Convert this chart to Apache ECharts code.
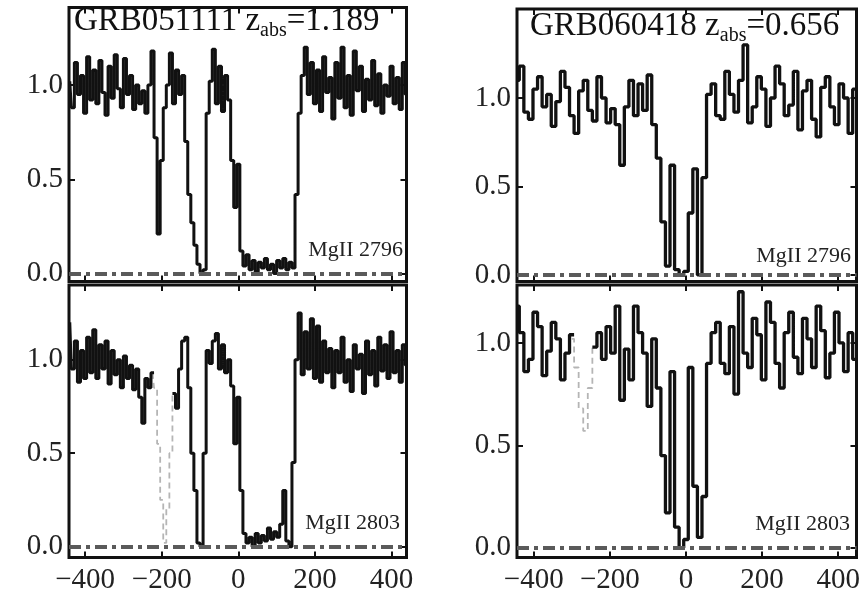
<!DOCTYPE html>
<html><head><meta charset="utf-8">
<script src="https://cdn.jsdelivr.net/npm/echarts@6/dist/echarts.min.js"></script>
<style>html,body{margin:0;padding:0;background:#fff}#c{width:865px;height:596px}</style>
</head><body><div id="c"></div>
<script>
// ---- data (velocity grids in km/s, normalised flux) ----
const velStartL = -440, velStepL = 8;   // GRB051111 pixel grid
const velStartR = -444, velStepR = 12;  // GRB060418 pixel grid
const zeroLevel = 0;

const xTicks = [-400, -200, 0, 200, 400];
const yTicks = [0, 0.5, 1.0];

const titleA = ['GRB051111 z', 'abs', '=1.189'];
const titleB = ['GRB060418 z', 'abs', '=0.656'];
const lineLabels = ['MgII 2796', 'MgII 2803'];

// GRB051111, MgII 2796
const fluxA2796 = [1.02,0.88,1.12,0.95,1.05,0.85,1.15,0.92,1.08,0.90,1.13,0.96,0.84,1.10,0.93,1.16,0.98,0.88,1.14,0.95,1.05,0.87,1.00,0.90,0.97,0.85,
  1.00,1.18,0.72,0.21,0.60,0.88,1.00,1.17,0.90,1.08,0.95,1.05,
  0.70,0.42,0.27,0.15,0.05,0.00,0.02,
  0.85,1.02,1.19,0.90,1.10,0.86,1.05,0.92,
  0.60,0.35,0.58,0.12,0.04,
  0.10,0.02,0.07,0.01,0.06,0.03,0.08,0.02,0.05,0.00,0.07,0.03,0.08,0.02,0.06,0.03,
  0.42,0.85,1.05,1.20,0.95,1.12,
  0.90,1.08,0.86,1.15,0.96,1.04,0.82,1.12,0.93,1.20,0.88,1.05,0.84,1.18,0.97,1.10,0.86,1.03,0.92,1.13,0.89,1.06,0.85,1.00,0.94,1.10,0.90,1.04,0.87,1.12,0.95];

// GRB051111, MgII 2803 (gap where blended)
const fluxA2803 = [1.20,0.95,1.10,0.88,1.05,0.90,1.12,0.93,1.16,0.90,1.08,0.95,1.10,0.87,1.05,0.92,1.00,0.85,1.02,0.90,0.97,0.84,0.95,0.80,0.66,0.90,0.85,0.93,
  null,null,null,null,null,null,
  0.82,0.74,0.95,1.10,1.12,0.85,0.50,0.30,0.02,0.00,
  0.50,1.05,0.98,1.10,1.14,0.95,1.08,0.93,1.00,
  0.86,0.55,0.80,0.30,0.07,
  0.02,0.05,0.00,0.07,0.02,0.06,0.03,0.10,0.04,0.08,0.05,0.12,0.30,0.03,0.00,
  0.45,1.00,
  1.25,0.92,1.15,0.95,1.22,0.90,1.18,0.88,1.10,0.93,1.06,0.85,1.05,0.93,1.12,0.88,1.00,0.83,1.08,0.95,1.03,0.82,1.10,0.92,1.05,0.86,1.12,0.94,1.08,0.90,1.15,0.93,1.05,0.88,1.08,0.97];
const blendA2803Vel = [-224,-216,-208,-200,-192,-184,-176,-168];
const blendA2803Flux = [0.93,0.85,0.55,0.25,0.02,0.20,0.50,0.82];

// GRB060418, MgII 2796
const fluxB2796 = [1.10,1.18,0.92,0.88,1.05,1.12,0.95,1.02,0.84,0.98,1.15,1.06,0.90,0.80,1.04,1.10,0.93,0.87,1.12,1.00,0.86,0.94,
  0.85,0.62,0.95,1.10,0.90,1.08,0.93,1.13,
  0.85,0.66,0.30,0.05,0.62,0.03,0.00,0.02,0.35,0.60,0.00,0.55,1.02,
  1.08,0.90,0.88,1.15,1.02,0.92,1.10,1.30,0.86,0.95,1.12,1.05,0.84,1.00,1.18,1.08,0.90,0.96,1.15,0.82,1.04,1.10,0.88,0.78,1.06,1.12,0.95,0.85,1.08,1.00,0.80,1.05];

// GRB060418, MgII 2803 (gap where blended)
const fluxB2803 = [1.18,1.05,0.86,0.92,1.15,1.08,0.84,0.96,1.10,1.02,0.82,0.95,1.04,
  null,null,null,null,
  0.98,1.05,0.92,1.08,0.95,1.18,0.72,0.97,0.82,1.18,1.05,0.95,0.69,1.02,0.78,0.45,0.17,0.86,0.10,0.00,0.04,0.88,0.30,0.05,0.25,0.90,
  1.05,1.10,0.90,0.85,1.08,0.75,1.25,0.95,0.88,1.12,1.04,0.82,1.20,1.10,0.90,0.78,1.05,1.15,0.93,0.85,1.12,1.02,0.88,1.18,1.06,0.83,0.95,1.15,1.00,0.86,1.05,0.92];
const blendB2803Vel = [-300,-288,-276,-264,-252,-240];
const blendB2803Flux = [1.02,0.88,0.68,0.57,0.78,0.98];

// ---- layout ----
const SERIF = '"Liberation Serif", "Times New Roman", serif';
const panels = [
  {grid:{left:69, top:7.5, width:337.5, height:274}, x:[-442,439], y:[-0.042,1.411], v0:velStartL, dv:velStepL, flux:fluxA2796, bv:null, bf:null, xl:false, lw:3},
  {grid:{left:517, top:9, width:339.5, height:272.5}, x:[-444,448], y:[-0.037,1.503], v0:velStartR, dv:velStepR, flux:fluxB2796, bv:null, bf:null, xl:false, lw:3.3},
  {grid:{left:69, top:285, width:337.5, height:272.5}, x:[-442,439], y:[-0.058,1.40], v0:velStartL, dv:velStepL, flux:fluxA2803, bv:blendA2803Vel, bf:blendA2803Flux, xl:true, lw:3},
  {grid:{left:517, top:285, width:339.5, height:272.5}, x:[-444,448], y:[-0.048,1.283], v0:velStartR, dv:velStepR, flux:fluxB2803, bv:blendB2803Vel, bf:blendB2803Flux, xl:true, lw:3.3}
];

const tickStyle = {show:true, inside:true, length:6, lineStyle:{color:'#111', width:2}};
const noLine = {show:false, onZero:false};
const fmtX = v => (v < 0 ? '\u2212' + Math.abs(v) : String(v));
const grids = [], xAxes = [], yAxes = [], series = [];
panels.forEach((p, i) => {
  grids.push(Object.assign({show:true, borderColor:'#111', borderWidth:3, backgroundColor:'transparent'}, p.grid));
  xAxes.push({type:'value', gridIndex:i, position:'bottom', min:p.x[0], max:p.x[1],
    axisLine:noLine, splitLine:{show:false},
    axisTick:Object.assign({customValues:xTicks}, tickStyle),
    axisLabel:{show:p.xl, customValues:xTicks, formatter:fmtX, fontFamily:SERIF, fontSize:29, color:'#222', margin:8}});
  xAxes.push({type:'value', gridIndex:i, position:'top', min:p.x[0], max:p.x[1],
    axisLine:noLine, splitLine:{show:false},
    axisTick:Object.assign({customValues:xTicks}, tickStyle), axisLabel:{show:false}});
  yAxes.push({type:'value', gridIndex:i, position:'left', min:p.y[0], max:p.y[1],
    axisLine:noLine, splitLine:{show:false},
    axisTick:Object.assign({customValues:yTicks}, tickStyle),
    axisLabel:{customValues:yTicks, formatter:v => v.toFixed(1), fontFamily:SERIF, fontSize:29, color:'#222', margin:6}});
  yAxes.push({type:'value', gridIndex:i, position:'right', min:p.y[0], max:p.y[1],
    axisLine:noLine, splitLine:{show:false},
    axisTick:Object.assign({customValues:yTicks}, tickStyle), axisLabel:{show:false}});
  series.push({type:'line', xAxisIndex:2*i, yAxisIndex:2*i, step:'middle', symbol:'none', silent:true,
    data:p.flux.map((f, k) => [p.v0 + k * p.dv, f]),
    lineStyle:{color:'#111', width:p.lw}, z:3,
    markLine:{silent:true, symbol:'none', label:{show:false}, animation:false,
      lineStyle:{color:'#5a5a5a', width:4, type:[12,5,4,5], opacity:1},
      data:[{yAxis:zeroLevel}]}});
  if (p.bv) {
    series.push({type:'line', xAxisIndex:2*i, yAxisIndex:2*i, step:'middle', symbol:'none', silent:true,
      data:p.bv.map((v, k) => [v, p.bf[k]]),
      lineStyle:{color:'#b5b5b5', width:1.8, type:[6,4]}, z:2});
  }
});

function title(parts, x, y) {
  return {type:'text', z:10, style:{x:x, y:y, verticalAlign:'top',
    text:'{m|' + parts[0] + '}{s|' + parts[1] + '}{m|' + parts[2] + '}',
    rich:{m:{fontFamily:SERIF, fontSize:33, fill:'#111', lineHeight:40},
          s:{fontFamily:SERIF, fontSize:20, fill:'#111', verticalAlign:'bottom'}}}};
}
function lab(t, x, y) {
  return {type:'text', z:10, style:{x:x, y:y, text:t, align:'right', verticalAlign:'middle',
    fontFamily:SERIF, fontSize:22, fill:'#222'}};
}

const chart = echarts.init(document.getElementById('c'));
chart.setOption({
  animation:false,
  backgroundColor:'#fff',
  grid:grids, xAxis:xAxes, yAxis:yAxes, series:series,
  graphic:[
    title(titleA, 74, 1), title(titleB, 530, 6),
    lab(lineLabels[0], 403, 250), lab(lineLabels[0], 851, 256),
    lab(lineLabels[1], 400, 523), lab(lineLabels[1], 850, 524)
  ]
});
</script></body></html>
